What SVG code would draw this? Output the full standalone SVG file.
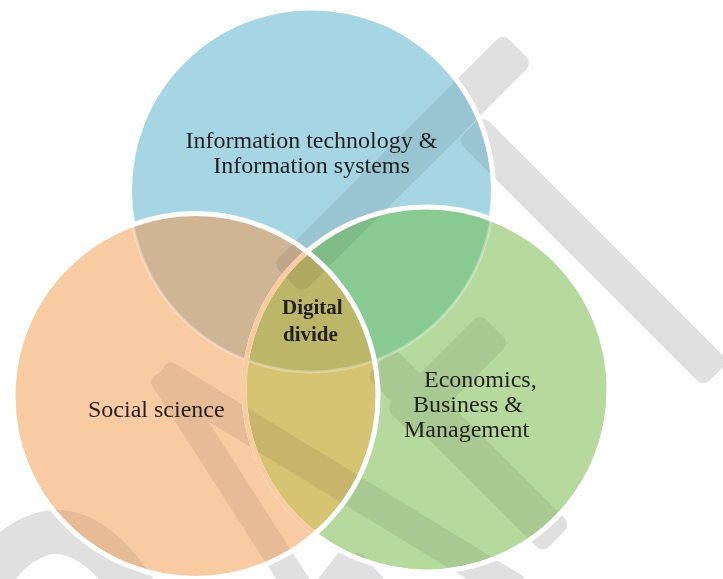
<svg xmlns="http://www.w3.org/2000/svg" xmlns:xlink="http://www.w3.org/1999/xlink" width="723" height="579" viewBox="0 0 723 579">
<style>
  .lbl{font-family:"Liberation Serif","Times New Roman",serif;font-size:24px;fill:#231f20}
  .bold{font-weight:bold;font-size:21px}
  .wm{fill:currentColor}
  .wmline{fill:none;stroke:currentColor;stroke-width:44}
</style>
<defs>
  <clipPath id="cB"><circle cx="311.5" cy="190" r="182"/></clipPath>
  <clipPath id="cO"><circle cx="195.5" cy="396" r="182.5"/></clipPath>
  <clipPath id="cOG"><circle cx="195.5" cy="396" r="182.5"/><circle cx="426.5" cy="389.5" r="182.5"/></clipPath>
  <clipPath id="cAll"><circle cx="311.5" cy="190" r="179.5"/><circle cx="195.5" cy="396" r="180"/><circle cx="426.5" cy="389.5" r="180"/></clipPath>
  <g id="wmShapes">
    <rect class="wm" x="-163" y="-21" width="326" height="42" rx="9" transform="translate(402.5,163.5) rotate(-45)"/>
    <rect class="wm" x="-174" y="-18" width="348" height="36" rx="9" transform="translate(593,251) rotate(45)"/>
    <rect class="wm" x="-134" y="-14" width="268" height="28" rx="8" transform="translate(232.5,485) rotate(57.3)"/>
    <rect class="wm" x="-211" y="-16" width="422" height="32" rx="8" transform="translate(340,483) rotate(31.4)"/>
    <rect class="wm" x="-67" y="-21" width="134" height="42" rx="9" transform="translate(447.5,375.5) rotate(-45)"/>
    <rect class="wm" x="-125" y="-20" width="250" height="40" rx="9" transform="translate(468.5,450.5) rotate(45)"/>
    <polygon class="wm" points="318,579 338,553 362,553 384,579"/>
    <path class="wmline" d="M -20,600 C 0,545 40,530 60,532 C 85,534 115,555 140,600"/>
  </g>
</defs>

<g id="watermark-under"><use xlink:href="#wmShapes" style="color:#e0e0e0"/></g>

<g id="circles">
  <g id="circle-it"><circle cx="311.5" cy="190" r="182" fill="#a6d5e3" stroke="#ffffff" stroke-width="5"/></g>
  <g id="circle-social"><circle cx="195.5" cy="396" r="182.5" fill="#f9cba3"/></g>
  <g id="circle-econ"><circle cx="426.5" cy="389.5" r="182.5" fill="#b6da9e"/></g>
</g>

<g id="overlaps">
  <circle cx="195.5" cy="396" r="182.5" fill="#cfb594" clip-path="url(#cB)"/>
  <circle cx="426.5" cy="389.5" r="182.5" fill="#89ca92" clip-path="url(#cB)"/>
  <circle cx="426.5" cy="389.5" r="182.5" fill="#d6c473" clip-path="url(#cO)"/>
  <g clip-path="url(#cB)"><circle cx="426.5" cy="389.5" r="182.5" fill="#bcb668" clip-path="url(#cO)"/></g>
</g>

<g id="watermark-over" clip-path="url(#cAll)"><use xlink:href="#wmShapes" style="color:#000000" opacity="0.075"/></g>

<g id="outlines">
  <circle cx="311.5" cy="190" r="182" fill="none" stroke="#ffffff" stroke-opacity="0.3" stroke-width="3" clip-path="url(#cOG)"/>
  <circle cx="426.5" cy="389.5" r="182.5" fill="none" stroke="#ffffff" stroke-width="5"/>
  <circle cx="426.5" cy="389.5" r="182.5" fill="none" stroke="#f9cba3" stroke-width="5" clip-path="url(#cO)"/>
  <circle cx="195.5" cy="396" r="182.5" fill="none" stroke="#ffffff" stroke-width="5"/>
</g>

<g id="connectors"></g>

<g id="node-it">
  <text class="lbl" x="311.5" y="148" text-anchor="middle">Information technology &amp;</text>
  <text class="lbl" x="311.5" y="173" text-anchor="middle">Information systems</text>
</g>
<g id="node-social">
  <text class="lbl" x="88" y="417">Social science</text>
</g>
<g id="node-econ">
  <text class="lbl" x="424" y="387">Economics,</text>
  <text class="lbl" x="413" y="412">Business &amp;</text>
  <text class="lbl" x="404" y="437">Management</text>
</g>
<g id="node-digital">
  <text class="lbl bold" x="282" y="314">Digital</text>
  <text class="lbl bold" x="283" y="341">divide</text>
</g>
</svg>
